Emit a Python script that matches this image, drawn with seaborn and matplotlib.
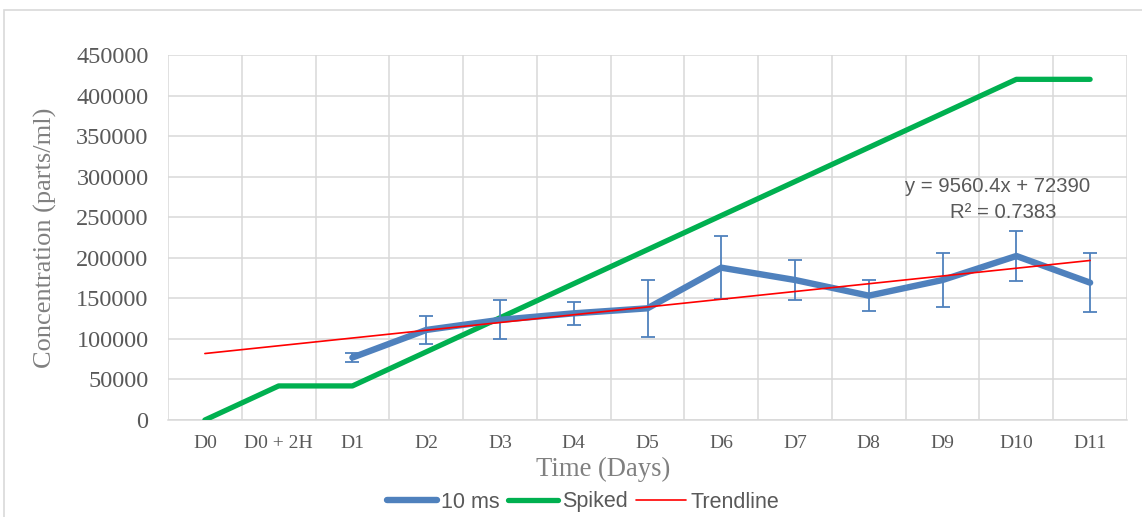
import numpy as np
import pandas as pd
import matplotlib
matplotlib.use("Agg")
import matplotlib.pyplot as plt
import seaborn as sns
from matplotlib.patches import Rectangle
from matplotlib.ticker import FixedLocator, MultipleLocator

# ---- data ----
days = ["D0", "D0 + 2H", "D1", "D2", "D3", "D4", "D5", "D6", "D7", "D8", "D9", "D10", "D11"]
ms10 = [np.nan, np.nan, 77000, 111000, 123500, 131500, 137700, 187800, 172600, 153300, 172600, 202200, 169300]
ms10_err = [np.nan, np.nan, 5800, 17500, 24000, 13800, 35300, 38600, 24300, 19400, 33900, 30800, 36100]
spiked = [0, 42000, 42000, 84000, 126000, 168000, 210000, 252000, 294000, 336000, 378000, 420000, 420000]
trend_slope = 9560.4
trend_intercept = 72390
trend_r2 = 0.7383

sns.set_theme(style="white")
plt.rcParams["font.family"] = ["Liberation Serif", "DejaVu Serif"]

pos = np.arange(len(days))
df = pd.DataFrame({
    "pos": pos,
    "ms10": ms10,
    "err": ms10_err,
    "spiked": spiked,
    "trend": trend_slope * (pos + 1) + trend_intercept,
})

fig = plt.figure(figsize=(11.42, 5.17), dpi=100)
ax = fig.add_axes([168 / 1142, 1 - 420 / 517, (1127 - 168) / 1142, (420 - 55) / 517])

blue = "#4F81BD"
green = "#00B050"
red = "#FF0000"
grid_c = "#D9D9D9"

sns.lineplot(data=df, x="pos", y="spiked", ax=ax, color=green, linewidth=3.8,
             solid_capstyle="round", label="Spiked", zorder=3)
sub = df.dropna(subset=["ms10"])
ax.errorbar(sub["pos"], sub["ms10"], yerr=sub["err"], fmt="none", ecolor=blue,
            elinewidth=1.3, capsize=5, capthick=1.3, zorder=4)
sns.lineplot(data=sub, x="pos", y="ms10", ax=ax, color=blue, linewidth=4.6,
             solid_capstyle="round", label="10 ms", zorder=5)
sns.lineplot(data=df, x="pos", y="trend", ax=ax, color=red, linewidth=1.2,
             label="Trendline", zorder=6)

ax.set_xlim(-0.5, len(days) - 0.5)
ax.set_ylim(0, 450000)
ax.xaxis.set_major_locator(FixedLocator(pos))
ax.set_xticklabels(days)
ax.xaxis.set_minor_locator(FixedLocator(np.arange(-0.5, len(days), 1.0)))
ax.yaxis.set_major_locator(MultipleLocator(50000))
ax.grid(which="minor", axis="x", color=grid_c, linewidth=1.1)
ax.grid(which="major", axis="y", color=grid_c, linewidth=1.1)
ax.grid(which="major", axis="x", visible=False)
ax.set_axisbelow(True)
for s in ax.spines.values():
    s.set_visible(False)
ax.spines["bottom"].set_visible(True)
ax.spines["bottom"].set_color(grid_c)
ax.spines["bottom"].set_linewidth(1.1)

ax.tick_params(axis="y", labelsize=17.5, labelcolor="#595959", pad=14, length=0)
ax.tick_params(axis="x", labelsize=14, labelcolor="#595959", pad=11, length=0, which="both")
ax.set_xlabel("Time (Days)", fontsize=19.2, color="#808080", labelpad=3,
              x=(603 - 168) / 959)
ax.set_ylabel("Concentration (parts/ml)", fontsize=19, color="#808080", labelpad=14)

fig.text(998 / 1142, 1 - 186 / 517, f"y = {trend_slope}x + {trend_intercept}",
         ha="center", va="center", fontsize=14.6, color="#595959", family="Liberation Sans")
fig.text(1003 / 1142, 1 - 213 / 517, f"R² = {trend_r2}",
         ha="center", va="center", fontsize=14.6, color="#595959", family="Liberation Sans")

handles, labels = ax.get_legend_handles_labels()
order = [labels.index(n) for n in ["10 ms", "Spiked", "Trendline"]]
if ax.get_legend():
    ax.get_legend().remove()
leg = fig.legend([handles[i] for i in order], [labels[i] for i in order],
                 loc="center", bbox_to_anchor=(583 / 1142, 1 - 502 / 517), ncol=3,
                 frameon=False, prop={"family": "Liberation Sans", "size": 15.5},
                 handlelength=2.35, handletextpad=0.2, columnspacing=0.35,
                 borderaxespad=0, borderpad=0)
for t in leg.get_texts():
    t.set_color("#595959")

# chart-area border
fig.patches.append(Rectangle((4 / 1142, -0.05), 1.1, 1 - 10 / 517 + 0.05,
                             transform=fig.transFigure, fill=False,
                             edgecolor="#D9D9D9", linewidth=1.2))

fig.savefig("out.png", dpi=100)
